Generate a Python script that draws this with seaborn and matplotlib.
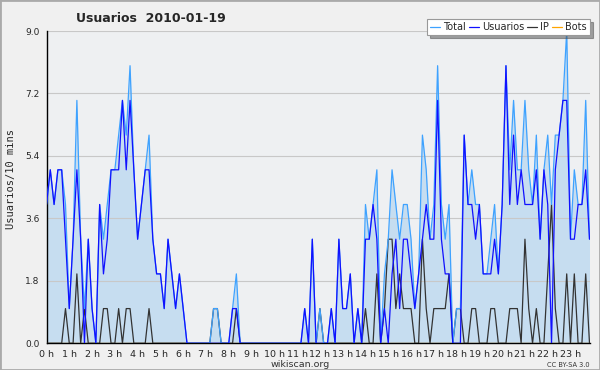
import numpy as np
import pandas as pd
import matplotlib
matplotlib.use('Agg')
import matplotlib.pyplot as plt
import seaborn as sns
from matplotlib.ticker import MultipleLocator
from matplotlib.patches import Rectangle

# Valores leídos cada 10 minutos (144 intervalos)
usuarios = [4, 5, 4, 5, 5, 3, 1, 3, 5, 3, 0, 3,
            1, 0, 4, 2, 3, 5, 5, 5, 7, 5, 7, 5,
            3, 4, 5, 5, 3, 2, 2, 1, 3, 2, 1, 2,
            1, 0, 0, 0, 0, 0, 0, 0, 0, 0, 0, 0,
            0, 1, 1, 0, 0, 0, 0, 0, 0, 0, 0, 0,
            0, 0, 0, 0, 0, 0, 0, 0, 1, 0, 3, 0,
            0, 0, 0, 1, 0, 3, 1, 1, 2, 0, 1, 0,
            3, 3, 4, 3, 0, 1, 0, 2, 3, 1, 3, 3,
            2, 1, 2, 3, 4, 3, 3, 7, 3, 2, 2, 0,
            0, 0, 6, 4, 4, 3, 4, 2, 2, 2, 3, 2,
            4, 8, 4, 6, 4, 5, 4, 4, 4, 5, 3, 5,
            4, 0, 5, 6, 7, 7, 3, 3, 4, 4, 5, 3]

ip = [0, 0, 0, 0, 0, 1, 0, 0, 2, 0, 1, 0,
      0, 0, 0, 1, 1, 0, 0, 1, 0, 1, 1, 0,
      0, 0, 0, 1, 0, 0, 0, 0, 0, 0, 0, 0,
      0, 0, 0, 0, 0, 0, 0, 0, 1, 1, 0, 0,
      0, 0, 1, 0, 0, 0, 0, 0, 0, 0, 0, 0,
      0, 0, 0, 0, 0, 0, 0, 0, 0, 0, 0, 0,
      1, 0, 0, 0, 0, 0, 0, 0, 0, 0, 0, 0,
      1, 0, 0, 2, 0, 1, 3, 3, 1, 2, 1, 1,
      1, 0, 0, 3, 1, 0, 1, 1, 1, 1, 2, 0,
      1, 1, 0, 0, 1, 1, 0, 0, 0, 1, 1, 0,
      0, 0, 1, 1, 1, 0, 3, 1, 0, 1, 0, 0,
      2, 4, 1, 0, 0, 2, 0, 2, 0, 0, 2, 0]

total = [4, 5, 4, 5, 5, 4, 1, 3, 7, 3, 1, 3,
         1, 0, 4, 3, 4, 5, 5, 6, 7, 6, 8, 5,
         3, 4, 5, 6, 3, 2, 2, 1, 3, 2, 1, 2,
         1, 0, 0, 0, 0, 0, 0, 0, 1, 1, 0, 0,
         0, 1, 2, 0, 0, 0, 0, 0, 0, 0, 0, 0,
         0, 0, 0, 0, 0, 0, 0, 0, 1, 0, 3, 0,
         1, 0, 0, 1, 0, 3, 1, 1, 2, 0, 1, 0,
         4, 3, 4, 5, 0, 2, 3, 5, 4, 3, 4, 4,
         3, 1, 2, 6, 5, 3, 4, 8, 4, 3, 4, 0,
         1, 1, 6, 4, 5, 4, 4, 2, 2, 3, 4, 2,
         4, 8, 5, 7, 5, 5, 7, 5, 4, 6, 3, 5,
         6, 4, 6, 6, 7, 9, 3, 5, 4, 4, 7, 3]

bots = [0] * 144

minutos = list(range(0, 24 * 60, 10))
horas = list(range(24))
etiquetas_x = [f'{h} h' for h in horas]
ticks_y = [0.0, 1.8, 3.6, 5.4, 7.2, 9.0]

df = pd.DataFrame({'hora': np.array(minutos) / 60.0,
                   'Total': total, 'Usuarios': usuarios,
                   'IP': ip, 'Bots': bots})

sns.set_style('white')
plt.rcParams['font.family'] = ['DejaVu Sans']

fig = plt.figure(figsize=(6, 3.7), dpi=100, facecolor='#f0f0f0')
ax = fig.add_axes([0.0775, 0.0722, 0.905, 0.844])
ax.set_facecolor('#eef0f2')

ax.fill_between(df['hora'], df['Total'], color='#c6ddf0', lw=0, zorder=1)
sns.lineplot(data=df, x='hora', y='Bots', ax=ax, color='#ffa500', lw=0.9, label='Bots', zorder=2)
sns.lineplot(data=df, x='hora', y='IP', ax=ax, color='#333333', lw=0.9, label='IP', zorder=3)
sns.lineplot(data=df, x='hora', y='Total', ax=ax, color='#3ea2ff', lw=0.9, label='Total', zorder=4)
sns.lineplot(data=df, x='hora', y='Usuarios', ax=ax, color='#1010ff', lw=0.9, label='Usuarios', zorder=5)

ax.set_xlim(0, df['hora'].iloc[-1])
ax.set_ylim(0, 9)
ax.set_xticks(horas)
ax.set_xticklabels(etiquetas_x)
ax.xaxis.set_minor_locator(MultipleLocator(1 / 6))
ax.set_yticks(ticks_y)
ax.set_yticklabels([f'{v:.1f}' for v in ticks_y])
ax.yaxis.set_minor_locator(MultipleLocator(0.45))
ax.tick_params(axis='both', which='major', direction='out', length=4, width=0.8,
               labelsize=6.5, pad=1, color='black')
ax.tick_params(axis='both', which='minor', direction='out', length=3, width=0.8, color='black')
ax.tick_params(axis='x', labelsize=6.8, pad=0.5)
ax.set_xlabel('')
ax.set_ylabel('')

ax.set_axisbelow('line')
ax.grid(axis='y', which='major', color='#c8c8c8', lw=0.8)
for s in ['top', 'right']:
    ax.spines[s].set_visible(False)
for s in ['left', 'bottom']:
    ax.spines[s].set_color('black')
    ax.spines[s].set_linewidth(1)

# orden de la leyenda como en el original
handles, labels = ax.get_legend_handles_labels()
orden = ['Total', 'Usuarios', 'IP', 'Bots']
h_ord = [handles[labels.index(n)] for n in orden]
leg = ax.legend(h_ord, orden, ncol=4, loc='upper right',
                bbox_to_anchor=(0.983, 0.948), bbox_transform=fig.transFigure,
                fontsize=7, handlelength=1.0, handletextpad=0.35, columnspacing=0.3,
                frameon=True, fancybox=False, shadow=True, borderpad=0.3,
                borderaxespad=0)
leg.get_frame().set_edgecolor('#999999')
leg.get_frame().set_facecolor('white')
leg.get_frame().set_linewidth(0.8)

fig.text(0.252, 0.950, 'Usuarios  2010-01-19', fontsize=9, fontweight='bold',
         ha='center', va='center')
fig.text(0.018, 0.515, 'Usuarios/10 mins', rotation=90, fontsize=7.5,
         family='DejaVu Sans Mono', ha='center', va='center')
fig.text(0.5, 0.016, 'wikiscan.org', fontsize=6.8, ha='center', va='center', color='#333333')
fig.text(0.982, 0.014, 'CC BY-SA 3.0', fontsize=4.8, ha='right', va='center', color='#333333')

fig.patches.append(Rectangle((0, 0), 1, 1, transform=fig.transFigure, fill=False,
                             edgecolor='#aaaaaa', lw=2))

fig.savefig('out.png', dpi=100, facecolor=fig.get_facecolor())
